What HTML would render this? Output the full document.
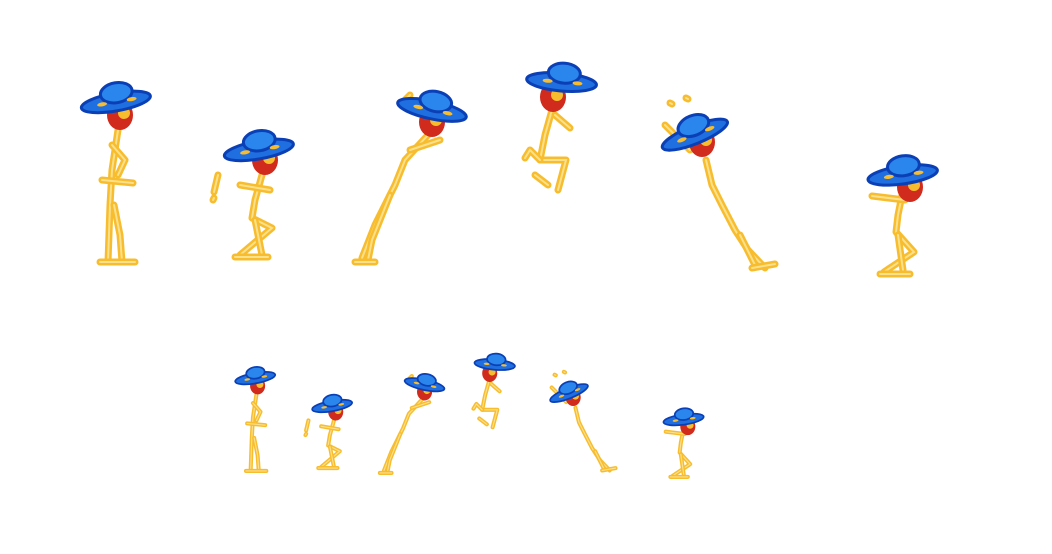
<!DOCTYPE html>
<html><head><meta charset="utf-8"><style>
html,body{margin:0;padding:0;background:#fff;width:1052px;height:554px;overflow:hidden}
svg{display:block}
</style></head><body>
<svg id="s" width="1052" height="554" viewBox="0 0 1052 554">
<rect width="1052" height="554" fill="#fff"/>
</svg>
<script>
// pose data: hat center, hat rotation, head center, bone polylines
const hats=[[115,97,-10],[258,145,-10],[433,105,12],[562,77,5],[693,130,-22],[902,170,-8]];
const heads=[[120,115],[265,160],[432,122],[553,97],[702,142],[910,187]];
const bones=[
 [[[118,130],[112,170],[110,205],[108,262]],[[114,205],[120,235],[122,262]],[[102,180],[133,183]],[[100,262],[135,262]],[[112,145],[125,160],[118,175]]],
 [[[262,175],[255,200],[252,218],[272,228],[240,255]],[[255,220],[262,255]],[[235,257],[268,257]],[[240,185],[270,190]],[[218,175],[214,192]],[[214,198],[213,200]]],
 [[[428,135],[405,160],[395,185],[375,225],[362,258]],[[390,195],[372,240],[368,260]],[[355,262],[375,262]],[[410,150],[440,140]],[[405,100],[410,95]]],
 [[[552,110],[545,135],[540,160],[566,160],[558,190]],[[540,160],[530,150],[525,158]],[[535,175],[548,185]],[[555,115],[570,128]]],
 [[[706,160],[712,185],[722,205],[735,230],[748,250],[765,268]],[[740,235],[755,265]],[[752,268],[775,264]],[[665,125],[690,150]],[[670,103],[672,104]],[[686,98],[688,99]]],
 [[[902,195],[898,215],[896,232],[914,252],[884,272]],[[898,235],[903,270]],[[880,274],[910,274]],[[872,196],[905,200]]]
];
const smallOffset=[[188,319],[182,319],[174,321],[169,317],[166,315],[160,318]];
const smallScale=0.58;
const NS="http://www.w3.org/2000/svg";
const svg=document.getElementById('s');
function mk(t,a,p){const e=document.createElementNS(NS,t);for(const k in a)e.setAttribute(k,a[k]);p.appendChild(e);return e;}
function figure(i,tf,label){
  const g=mk('g',{transform:tf},svg);
  
  
  bones[i].forEach(b=>{
    const pl=mk('polyline',{points:b.map(p=>p.join(',')).join(' '),fill:'none',stroke:'#f7bd2f','stroke-width':7,'stroke-linecap':'round','stroke-linejoin':'round'},g);
    
    
    mk('polyline',{points:b.map(p=>p.join(',')).join(' '),fill:'none',stroke:'#fde08a','stroke-width':2,'stroke-linecap':'round'},g);
  });
  const [hx,hy]=heads[i];
  const hd=mk('ellipse',{cx:hx,cy:hy,rx:13,ry:15,fill:'#d02b1c'},g);
  
  
  mk('circle',{cx:hx+4,cy:hy-2,r:6,fill:'#f7bd2f'},g);
  const [cx,cy,r]=hats[i];
  const h=mk('g',{transform:`rotate(${r} ${cx} ${cy})`},g);
  
  
  mk('ellipse',{cx:cx,cy:cy+5,rx:35,ry:9,fill:'#1f6fe0',stroke:'#0b3fb5','stroke-width':3},h);
  mk('ellipse',{cx:cx+2,cy:cy-4,rx:16,ry:10,fill:'#2a86ec',stroke:'#0b3fb5','stroke-width':3},h);
  mk('ellipse',{cx:cx-14,cy:cy+5,rx:5,ry:2,fill:'#f7bd2f'},h);
  mk('ellipse',{cx:cx+16,cy:cy+5,rx:5,ry:2,fill:'#f7bd2f'},h);
}
for(let i=0;i<6;i++){
  figure(i,'',`large-frame-${i+1}`);
  const [tx,ty]=smallOffset[i];
  figure(i,`translate(${tx} ${ty}) scale(${smallScale})`,`small-frame-${i+1}`);
}
</script>
</body></html>
